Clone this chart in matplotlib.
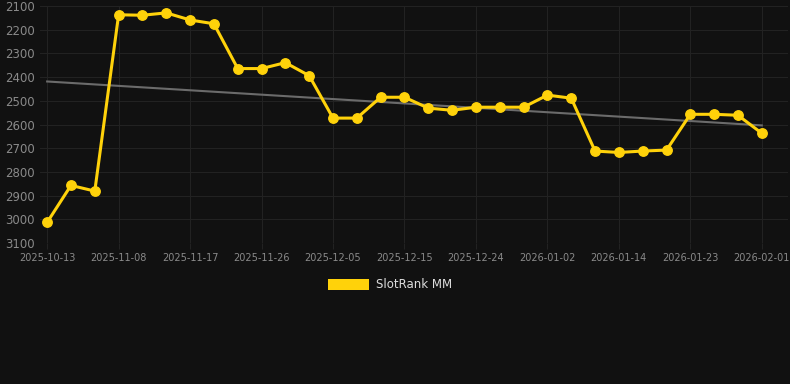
import matplotlib

matplotlib.use("Agg")
import matplotlib.pyplot as plt
import numpy as np
from matplotlib.patches import Patch

DATES = [
    "2025-10-13", "2025-10-22", "2025-10-30",
    "2025-11-08", "2025-11-11", "2025-11-14",
    "2025-11-17", "2025-11-20", "2025-11-23",
    "2025-11-26", "2025-11-29", "2025-12-02",
    "2025-12-05", "2025-12-08", "2025-12-12",
    "2025-12-15", "2025-12-18", "2025-12-21",
    "2025-12-24", "2025-12-27", "2025-12-30",
    "2026-01-02", "2026-01-06", "2026-01-10",
    "2026-01-14", "2026-01-17", "2026-01-20",
    "2026-01-23", "2026-01-26", "2026-01-29",
    "2026-02-01",
]
RANKS = [
    3013, 2857, 2881, 2137, 2139, 2129, 2159, 2175, 2364, 2364,
    2339, 2394, 2573, 2573, 2485, 2485, 2531, 2540, 2527, 2527,
    2527, 2476, 2489, 2712, 2718, 2712, 2708, 2557, 2557, 2561,
    2637,
]
SERIES_NAME = "SlotRank MM"

BG = "#111111"
GOLD = "#FFD20A"
GRID = "#222222"
TICK = "#8a8a8a"

x = np.arange(len(RANKS))
y = np.array(RANKS, dtype=float)
slope, intercept = np.polyfit(x, y, 1)

fig = plt.figure(figsize=(7.9, 3.84), dpi=100, facecolor=BG)
ax = fig.add_axes([40 / 790, 1 - 243 / 384, 748 / 790, 237 / 384])
ax.set_facecolor(BG)

ax.plot(x, slope * x + intercept, color="#6b6b6b", linewidth=1.5, zorder=2)
ax.plot(x, y, color=GOLD, linewidth=2.2, marker="o", markersize=6.8, zorder=3)

ax.set_ylim(3100, 2100)
ax.set_yticks(np.arange(2100, 3101, 100))
ax.set_xlim(-0.3, len(RANKS) - 1 + 1.1)
ticks = x[::3]
ax.set_xticks(ticks)
ax.set_xticklabels([DATES[i] for i in ticks])

ax.grid(True, color=GRID, linewidth=0.8)
ax.set_axisbelow(True)
for spine in ax.spines.values():
    spine.set_visible(False)
ax.tick_params(axis="y", length=0, labelsize=8.5, colors=TICK, pad=4)
ax.tick_params(axis="x", length=4, color=GRID, labelsize=7, colors=TICK, pad=3)

handles = [Patch(facecolor=GOLD, edgecolor="none", label=SERIES_NAME)]
fig.legend(
    handles=handles,
    loc="center",
    bbox_to_anchor=(390 / 790, 1 - 285 / 384),
    frameon=False,
    fontsize=8.5,
    labelcolor="#dddddd",
    handlelength=3.5,
    handleheight=1.0,
    handletextpad=0.6,
)

fig.savefig("out.png", dpi=100, facecolor=BG)
